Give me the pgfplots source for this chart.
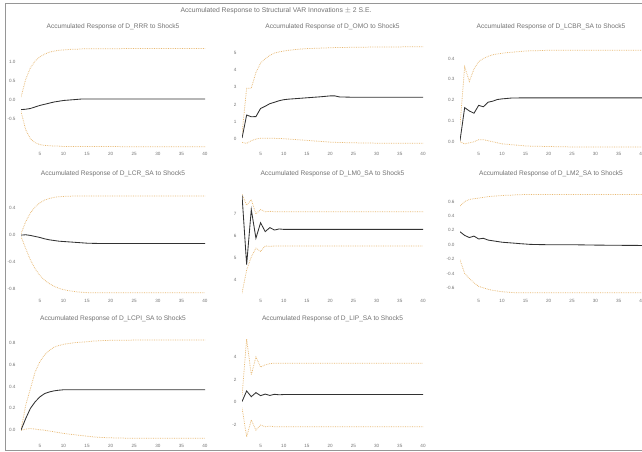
\documentclass[border=0pt]{standalone}
\usepackage{pgfplots}
\usepackage{pgfplotstable}
\pgfplotsset{compat=1.18}
\usepackage{fontspec}
\setmainfont{Liberation Sans}
\definecolor{txtgray}{RGB}{115,115,115}
\definecolor{bandc}{RGB}{232,185,115}
\definecolor{respc}{RGB}{50,50,50}
\definecolor{framec}{RGB}{150,150,150}

\pgfplotstableread{
x r u l
1 -0.25 0.08 -0.30
2 -0.24 0.55 -0.78
3 -0.22 0.85 -1.02
4 -0.18 1.03 -1.12
5 -0.14 1.14 -1.17
6 -0.11 1.21 -1.19
7 -0.08 1.26 -1.20
8 -0.05 1.29 -1.21
9 -0.03 1.31 -1.21
10 -0.01 1.32 -1.22
11 0.00 1.33 -1.22
12 0.01 1.34 -1.22
13 0.02 1.34 -1.22
14 0.03 1.35 -1.22
15 0.03 1.35 -1.22
16 0.03 1.35 -1.22
18 0.03 1.35 -1.22
20 0.03 1.35 -1.22
25 0.03 1.36 -1.23
30 0.03 1.36 -1.23
35 0.03 1.36 -1.23
40 0.03 1.36 -1.23
}\tA

\pgfplotstableread{
x r u l
1 0.05 0.30 -0.20
2 1.39 2.95 -0.25
3 1.29 2.95 -0.10
4 1.30 3.85 0.00
5 1.77 4.40 0.05
6 1.90 4.65 0.05
7 2.05 4.85 0.05
8 2.13 4.98 0.04
9 2.22 5.05 0.03
10 2.28 5.10 0.02
11 2.31 5.14 0.00
12 2.33 5.17 -0.02
13 2.35 5.20 -0.04
14 2.37 5.22 -0.06
15 2.39 5.24 -0.08
16 2.41 5.25 -0.10
18 2.45 5.27 -0.14
20 2.50 5.29 -0.18
21 2.50 5.30 -0.19
22 2.44 5.30 -0.20
25 2.42 5.32 -0.22
30 2.42 5.33 -0.24
35 2.42 5.34 -0.25
40 2.42 5.35 -0.25
}\tB

\pgfplotstableread{
x r u l
1 0.005 0.08 0.000
2 0.164 0.36 -0.010
3 0.148 0.29 -0.005
4 0.137 0.35 0.000
5 0.175 0.385 0.010
6 0.168 0.400 0.010
7 0.190 0.410 0.005
8 0.195 0.418 0.000
9 0.203 0.422 -0.005
10 0.206 0.425 -0.010
11 0.208 0.428 -0.012
12 0.210 0.430 -0.014
13 0.210 0.432 -0.016
14 0.211 0.434 -0.018
15 0.211 0.436 -0.020
16 0.211 0.437 -0.021
18 0.211 0.438 -0.022
20 0.211 0.440 -0.023
25 0.211 0.440 -0.025
30 0.211 0.440 -0.025
35 0.211 0.440 -0.025
40 0.211 0.440 -0.025
}\tC

\pgfplotstableread{
x r u l
1 0.000 0.02 -0.02
2 0.005 0.20 -0.20
3 -0.005 0.33 -0.37
4 -0.020 0.42 -0.50
5 -0.035 0.48 -0.60
6 -0.055 0.52 -0.67
7 -0.070 0.545 -0.72
8 -0.080 0.56 -0.76
9 -0.090 0.57 -0.79
10 -0.095 0.575 -0.81
11 -0.100 0.578 -0.825
12 -0.105 0.58 -0.835
13 -0.110 0.58 -0.845
14 -0.115 0.58 -0.85
15 -0.120 0.58 -0.855
16 -0.122 0.58 -0.855
18 -0.125 0.58 -0.855
20 -0.125 0.58 -0.855
25 -0.125 0.58 -0.855
30 -0.125 0.58 -0.855
35 -0.125 0.58 -0.855
40 -0.125 0.58 -0.855
}\tD

\pgfplotstableread{
x r u l
1 7.86 7.90 3.40
2 4.70 7.40 4.45
3 7.20 7.65 5.05
4 5.90 7.00 5.45
5 6.60 7.20 5.30
6 6.20 7.10 5.55
7 6.38 7.12 5.53
8 6.27 7.10 5.55
9 6.32 7.10 5.55
10 6.30 7.10 5.55
12 6.30 7.10 5.55
15 6.30 7.10 5.55
20 6.30 7.10 5.55
25 6.30 7.10 5.55
30 6.30 7.10 5.55
35 6.30 7.10 5.55
40 6.30 7.10 5.55
}\tE

\pgfplotstableread{
x r u l
1 0.18 0.54 -0.21
2 0.13 0.60 -0.40
3 0.10 0.63 -0.47
4 0.12 0.64 -0.53
5 0.08 0.65 -0.58
6 0.09 0.66 -0.60
7 0.065 0.67 -0.62
8 0.055 0.675 -0.635
9 0.045 0.68 -0.645
10 0.035 0.685 -0.655
11 0.030 0.69 -0.66
12 0.025 0.69 -0.665
13 0.020 0.695 -0.668
14 0.014 0.697 -0.67
15 0.010 0.70 -0.67
16 0.005 0.70 -0.67
18 0.002 0.70 -0.67
20 0.000 0.70 -0.67
25 0.000 0.70 -0.67
30 -0.005 0.70 -0.67
35 -0.008 0.70 -0.67
40 -0.010 0.70 -0.67
}\tF

\pgfplotstableread{
x r u l
1 0.000 0.000 0.000
2 0.107 0.230 0.010
3 0.200 0.380 0.015
4 0.260 0.535 0.010
5 0.305 0.627 0.003
6 0.335 0.690 0.000
7 0.350 0.730 -0.008
8 0.360 0.760 -0.015
9 0.366 0.775 -0.022
10 0.370 0.786 -0.030
11 0.370 0.793 -0.035
12 0.370 0.800 -0.040
13 0.370 0.804 -0.045
14 0.370 0.807 -0.050
15 0.370 0.810 -0.055
16 0.370 0.815 -0.060
18 0.370 0.820 -0.067
20 0.370 0.823 -0.070
25 0.370 0.825 -0.075
30 0.370 0.825 -0.075
35 0.370 0.825 -0.075
40 0.370 0.825 -0.075
}\tG

\pgfplotstableread{
x r u l
1 0.03 0.50 -0.50
2 0.98 5.60 -3.10
3 0.47 2.40 -1.60
4 0.83 4.00 -2.50
5 0.56 3.10 -2.05
6 0.70 3.30 -2.20
7 0.58 3.40 -2.15
8 0.68 3.45 -2.20
9 0.64 3.44 -2.20
10 0.66 3.44 -2.20
12 0.66 3.44 -2.20
15 0.66 3.44 -2.20
20 0.66 3.44 -2.20
25 0.66 3.44 -2.20
30 0.66 3.44 -2.20
35 0.66 3.44 -2.20
40 0.66 3.44 -2.20
}\tH

\pgfplotsset{
  irf/.style={
    scale only axis, anchor=south west,
    xmin=1, xmax=40, xtick={5,10,...,40},
    axis line style={draw=none}, major tick length=0pt,
    /pgf/number format/assume math mode=true,
    tick label style={font=\fontsize{4.6}{5}\selectfont, text=txtgray},
    xticklabel style={yshift=-1pt},
    yticklabel style={xshift=-2pt},
    title style={font=\fontsize{6.6}{7}\selectfont, text=txtgray, yshift=2pt},
  },
  onedec/.style={yticklabel style={/pgf/number format/.cd, fixed, fixed zerofill, precision=1}},
  band/.style={bandc, densely dotted, line width=0.75pt},
  resp/.style={respc, line width=0.85pt},
}

\begin{document}
\begin{tikzpicture}
\useasboundingbox (0pt,0pt) rectangle (642pt,452pt);
\fill[white] (0pt,0pt) rectangle (642pt,452pt);
\draw[framec, line width=0.8pt] (5pt,2pt) rectangle (648pt,449pt);
\node[font=\fontsize{6.8}{7}\selectfont, text=txtgray] at (276pt,441pt) {Accumulated Response to Structural VAR Innovations $\pm$ 2 S.E.};

% Row 1
\begin{axis}[irf, onedec, at={(21pt,304pt)}, width=184pt, height=103pt, ymin=-1.26, ymax=1.45,
  ytick={-0.5,0,0.5,1.0}, title style={yshift=4pt},
  title={Accumulated Response of D\_RRR to Shock5}]
\addplot[band] table[x=x,y=u]{\tA};
\addplot[band] table[x=x,y=l]{\tA};
\addplot[resp] table[x=x,y=r]{\tA};
\end{axis}

\begin{axis}[irf, at={(242pt,304pt)}, width=181pt, height=103pt, ymin=-0.52, ymax=5.45,
  ytick={0,1,2,3,4,5}, title style={yshift=4pt},
  title={Accumulated Response of D\_OMO to Shock5}]
\addplot[band] table[x=x,y=u]{\tB};
\addplot[band] table[x=x,y=l]{\tB};
\addplot[resp] table[x=x,y=r]{\tB};
\end{axis}

\begin{axis}[irf, onedec, at={(460pt,304pt)}, width=182pt, height=103pt, ymin=-0.03, ymax=0.465,
  ytick={0,0.1,0.2,0.3,0.4}, title style={yshift=4pt},
  title={Accumulated Response of D\_LCBR\_SA to Shock5}]
\addplot[band] table[x=x,y=u]{\tC};
\addplot[band] table[x=x,y=l]{\tC};
\addplot[resp] table[x=x,y=r]{\tC};
\end{axis}

% Row 2
\begin{axis}[irf, onedec, at={(21pt,157pt)}, width=184pt, height=107pt, ymin=-0.89, ymax=0.70,
  ytick={-0.8,-0.4,0,0.4},
  title={Accumulated Response of D\_LCR\_SA to Shock5}]
\addplot[band] table[x=x,y=u]{\tD};
\addplot[band] table[x=x,y=l]{\tD};
\addplot[resp] table[x=x,y=r]{\tD};
\end{axis}

\begin{axis}[irf, at={(242pt,157pt)}, width=181pt, height=107pt, ymin=3.32, ymax=8.18,
  ytick={4,5,6,7},
  title={Accumulated Response of D\_LM0\_SA to Shock5}]
\addplot[band] table[x=x,y=u]{\tE};
\addplot[band] table[x=x,y=l]{\tE};
\addplot[resp] table[x=x,y=r]{\tE};
\end{axis}

\begin{axis}[irf, onedec, at={(460pt,157pt)}, width=182pt, height=107pt, ymin=-0.70, ymax=0.79,
  ytick={-0.6,-0.4,-0.2,0,0.2,0.4,0.6},
  title={Accumulated Response of D\_LM2\_SA to Shock5}]
\addplot[band] table[x=x,y=u]{\tF};
\addplot[band] table[x=x,y=l]{\tF};
\addplot[resp] table[x=x,y=r]{\tF};
\end{axis}

% Row 3
\begin{axis}[irf, onedec, at={(21pt,12pt)}, width=184pt, height=107pt, ymin=-0.09, ymax=0.89,
  ytick={0,0.2,0.4,0.6,0.8},
  title={Accumulated Response of D\_LCPI\_SA to Shock5}]
\addplot[band] table[x=x,y=u]{\tG};
\addplot[band] table[x=x,y=l]{\tG};
\addplot[resp] table[x=x,y=r]{\tG};
\end{axis}

\begin{axis}[irf, at={(242pt,12pt)}, width=181pt, height=107pt, ymin=-3.38, ymax=6.13,
  ytick={-2,0,2,4},
  title={Accumulated Response of D\_LIP\_SA to Shock5}]
\addplot[band] table[x=x,y=u]{\tH};
\addplot[band] table[x=x,y=l]{\tH};
\addplot[resp] table[x=x,y=r]{\tH};
\end{axis}
\end{tikzpicture}
\end{document}
